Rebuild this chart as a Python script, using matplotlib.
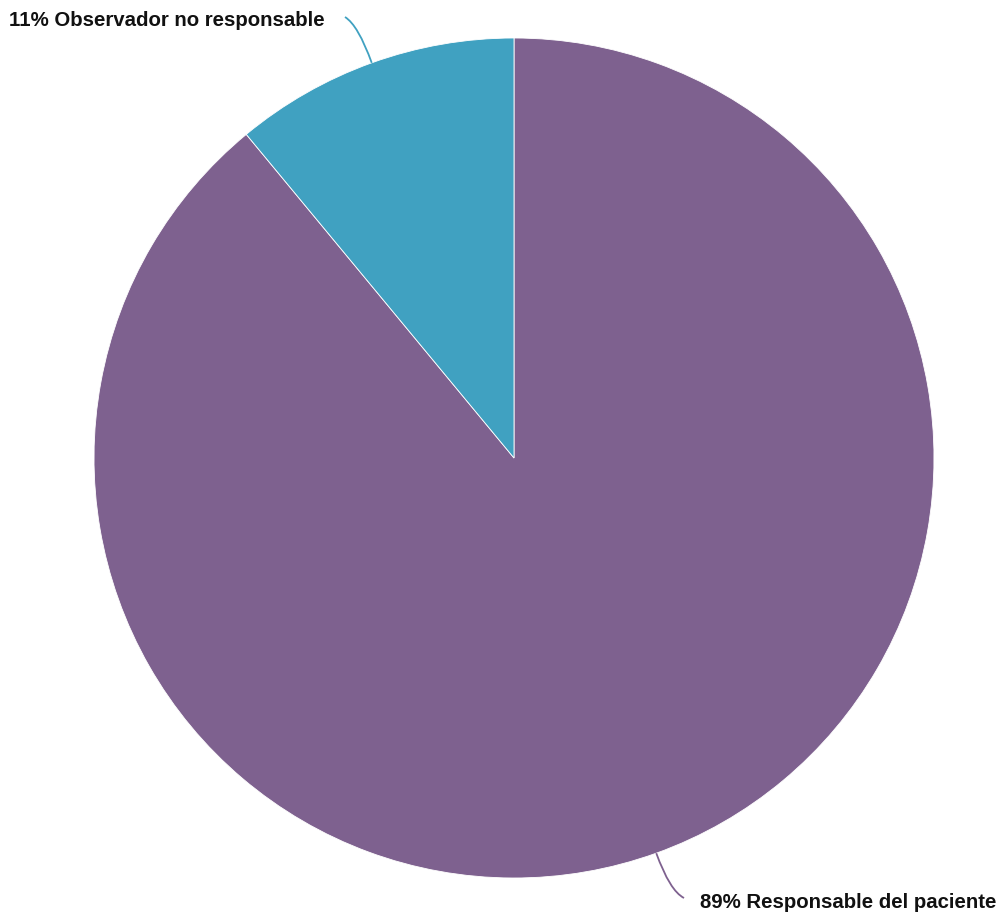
import matplotlib
matplotlib.use("Agg")
import matplotlib.pyplot as plt
import numpy as np
from matplotlib.path import Path
from matplotlib.patches import PathPatch

labels = ["Responsable del paciente", "Observador no responsable"]
values = [89, 11]
colors = ["#7e618f", "#40a1c1"]

W, H = 1001, 914
fig = plt.figure(figsize=(W / 100, H / 100), dpi=100)
ax = fig.add_axes([0, 0, 1, 1])

cx, cy, r = 514, H - 458, 420
ax.pie(values, colors=colors, startangle=90, counterclock=False,
       center=(cx, cy), radius=r, frame=True,
       wedgeprops=dict(edgecolor="white", linewidth=0.6))
ax.set_xlim(0, W)
ax.set_ylim(0, H)
ax.set_aspect("equal")
ax.axis("off")

total = sum(values)
# leader-line end points, text alignment and text offsets for each slice
anchors = [(684, H - 898, "left"), (345, H - 17, "right")]
text_off = [(16, -5), (-20, -3)]
start = 90.0
for val, lab, col, (ex, ey, ha), (dx, dy) in zip(values, labels, colors, anchors, text_off):
    span = 360.0 * val / total
    mid = np.deg2rad(start - span / 2)
    start -= span
    p0 = (cx + r * np.cos(mid), cy + r * np.sin(mid))
    p1 = (cx + (r + 40) * np.cos(mid), cy + (r + 40) * np.sin(mid))
    path = Path([p0, p1, (ex, ey)], [Path.MOVETO, Path.CURVE3, Path.CURVE3])
    ax.add_patch(PathPatch(path, facecolor="none", edgecolor=col, lw=1.3))
    pct = round(100 * val / total)
    ax.text(ex + dx, ey + dy, f"{pct}% {lab}", ha=ha, va="center",
            fontsize=14.7, fontweight="bold", family="Liberation Sans", color="#111111")

fig.savefig("out.png", dpi=100)
